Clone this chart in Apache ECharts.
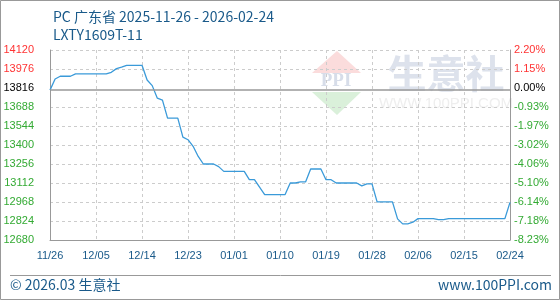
<!DOCTYPE html>
<html>
<head>
<meta charset="utf-8">
<script src="https://cdn.jsdelivr.net/npm/echarts@6/dist/echarts.min.js"></script>
<style>
html,body{margin:0;padding:0;background:#fff;}
#chart{width:560px;height:300px;}
</style>
</head>
<body>
<div id="chart"></div>
<script>
const dates = [
'11/26','11/27','11/28','11/29','11/30',
'12/01','12/02','12/03','12/04','12/05','12/06','12/07','12/08','12/09','12/10',
'12/11','12/12','12/13','12/14','12/15','12/16','12/17','12/18','12/19','12/20',
'12/21','12/22','12/23','12/24','12/25','12/26','12/27','12/28','12/29','12/30','12/31',
'01/01','01/02','01/03','01/04','01/05','01/06','01/07','01/08','01/09','01/10',
'01/11','01/12','01/13','01/14','01/15','01/16','01/17','01/18','01/19','01/20',
'01/21','01/22','01/23','01/24','01/25','01/26','01/27','01/28','01/29','01/30','01/31',
'02/01','02/02','02/03','02/04','02/05','02/06','02/07','02/08','02/09','02/10',
'02/11','02/12','02/13','02/14','02/15','02/16','02/17','02/18','02/19','02/20',
'02/21','02/22','02/23','02/24'
];
const prices = [
13816,13900,13921,13921,13921,13939,13939,13939,13939,13939,
13939,13939,13951,13979,13990,14004,14004,14004,14004,13893,
13850,13755,13740,13604,13604,13604,13460,13440,13390,13313,
13256,13256,13256,13236,13200,13200,13200,13200,13200,13137,
13137,13080,13024,13024,13024,13024,13024,13112,13112,13120,
13120,13218,13218,13218,13137,13137,13112,13112,13112,13112,
13112,13090,13105,13105,12969,12969,12969,12969,12840,12802,
12802,12815,12842,12842,12842,12842,12835,12835,12842,12842,
12842,12842,12842,12842,12842,12842,12842,12842,12842,12842,
12965
];
const basePrice = 13816;
const leftTickLabels = ['12680','12824','12968','13112','13256','13400','13544','13688','13816','13976','14120'];
const rightTickLabels = ['-8.23%','-7.18%','-6.14%','-5.10%','-4.06%','-3.02%','-1.97%','-0.93%','0.00%','1.15%','2.20%'];
const priceMin = 12680, priceMax = 14120;
const titleText = 'PC 广东省 2025-11-26 - 2026-02-24';
const subTitleText = 'LXTY1609T-11';
const footerLeft = '© 2026.03 生意社';
const footerRight = 'www.100PPI.com';

const RED = '#ff3333', GREEN = '#33aa33', BLACK = '#000000';
function labelColor(i) {
  if (i > 8) return RED;
  if (i === 8) return BLACK;
  return GREEN;
}
const splitColors = leftTickLabels.map((_, i) => i === 8 ? 'rgba(0,0,0,0)' : '#cccccc');

const chart = echarts.init(document.getElementById('chart'), null, {renderer: 'canvas'});
const labelFont = 'Liberation Sans';
chart.setOption({
  animation: false,
  backgroundColor: '#ffffff',
  title: {
    text: titleText,
    subtext: subTitleText,
    left: 48, top: 5,
    itemGap: 4,
    textStyle: {fontSize: 14, fontWeight: 'normal', color: '#1a5a8a', fontFamily: 'Noto Sans CJK SC'},
    subtextStyle: {fontSize: 14, color: '#1a5a8a', fontFamily: 'Noto Sans CJK SC'}
  },
  grid: {left: 50, right: 50, top: 50, bottom: 60, containLabel: false},
  xAxis: {
    type: 'category',
    data: dates,
    boundaryGap: false,
    axisLine: {lineStyle: {color: '#999999', width: 1}},
    axisTick: {show: false},
    axisLabel: {interval: 8, color: '#1a5a8a', fontSize: 11, fontFamily: labelFont, margin: 10},
    splitLine: {show: true, interval: 8, lineStyle: {color: '#cccccc', type: [3, 3]}}
  },
  yAxis: [
    {
      type: 'value', position: 'left', min: 0, max: 10, interval: 1,
      axisLine: {show: true, lineStyle: {color: '#999999', width: 1}},
      axisTick: {show: false},
      axisLabel: {
        margin: 16, fontSize: 11, fontFamily: labelFont,
        formatter: (v) => leftTickLabels[Math.round(v)],
        color: (v) => labelColor(Math.round(v))
      },
      splitLine: {show: true, showMinLine: true, showMaxLine: true, lineStyle: {color: splitColors, type: [3, 3]}}
    },
    {
      type: 'value', position: 'right', min: 0, max: 10, interval: 1,
      axisLine: {show: true, lineStyle: {color: '#999999', width: 1}},
      axisTick: {show: false},
      axisLabel: {
        margin: 4, fontSize: 11, fontFamily: labelFont,
        formatter: (v) => rightTickLabels[Math.round(v)],
        color: (v) => labelColor(Math.round(v))
      },
      splitLine: {show: false}
    },
    {
      type: 'value', show: false, min: priceMin, max: priceMax
    }
  ],
  series: [{
    type: 'line',
    yAxisIndex: 2,
    data: prices,
    symbol: 'none',
    lineStyle: {color: '#3a9ad9', width: 1.3},
    markLine: {
      silent: true, symbol: 'none',
      label: {show: false},
      lineStyle: {color: '#999999', type: 'solid', width: 1.5},
      data: [{yAxis: basePrice}]
    }
  }],
  graphic: [
    {type: 'rect', z: -5, shape: {x: 0.5, y: 0.5, width: 559, height: 299}, style: {fill: 'none', stroke: '#999999', lineWidth: 1}},
    {type: 'line', shape: {x1: 10, y1: 275.5, x2: 551, y2: 275.5}, style: {stroke: '#999999', lineWidth: 1}},
    {type: 'text', left: 10, top: 278, style: {text: footerLeft, fontSize: 14, fill: '#1a5a8a', fontFamily: 'Noto Sans CJK SC'}},
    {type: 'text', right: 8, top: 278, style: {text: footerRight, fontSize: 14, fill: '#1a5a8a', fontFamily: 'Noto Sans CJK SC'}},
    // watermark logo
    {type: 'polygon', z: -10, shape: {points: [[337, 51], [312, 73], [361, 73]]}, style: {fill: '#fbdcdc'}},
    {type: 'text', z: -10, x: 336, y: 81, style: {text: 'PPI', fontSize: 19, fontWeight: 'bold', fill: '#d7dde9', align: 'center', verticalAlign: 'middle', fontFamily: 'Liberation Serif'}},
    {type: 'polygon', z: -10, shape: {points: [[312, 92], [361, 92], [337, 115]]}, style: {fill: '#daf0da'}},
    {type: 'text', z: -10, x: 446, y: 73, style: {text: '生意社', fontSize: 39, fontWeight: 'bold', fill: '#dde2ec', align: 'center', verticalAlign: 'middle', fontFamily: 'Noto Sans CJK SC'}},
    {type: 'text', z: -10, x: 446, y: 104, style: {text: 'WWW.100PPI.COM', fontSize: 15, fill: '#eeeeee', align: 'center', verticalAlign: 'middle', fontFamily: 'Liberation Sans'}}
  ]
});
</script>
</body>
</html>
